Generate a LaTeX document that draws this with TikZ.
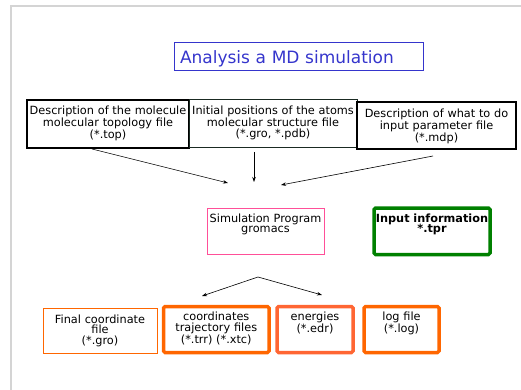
\documentclass[tikz,border=0pt]{standalone}
\usepackage{fontspec}
\setmainfont{DejaVu Sans}
\usetikzlibrary{arrows.meta}
\definecolor{titleblue}{HTML}{3535CC}
\definecolor{simpink}{HTML}{FF4F98}
\definecolor{tprgreen}{HTML}{008000}
\definecolor{outorange}{HTML}{FF6600}
\definecolor{edrorange}{HTML}{FF6633}
\definecolor{midline}{HTML}{1A2A22}

\begin{document}
\begin{tikzpicture}[x=1pt,y=-1pt,
		box/.style={draw, outer sep=0pt, inner xsep=0pt, inner ysep=0pt, align=center, anchor=north west, font=\fontsize{11.3}{10.8}\selectfont},
		thickbox/.style={box, line width=3.5pt, rounded corners=1.5pt},
		arr/.style={-{Stealth[length=5pt,width=3.5pt]}, line width=0.6pt}]
		\useasboundingbox (0,0) rectangle (521,390);
		\draw[black!17, line width=1.5pt] (11,390) -- (11,6) -- (521,6);
		% title
		\node[box, draw=titleblue, text=titleblue, line width=1pt, align=left, inner xsep=6pt, text width=237pt, text height=21pt, text depth=7pt, font=\fontsize{17}{20}\selectfont] (title) at (174,43) {Analysis a MD simulation};
		% input files
		\node[box, line width=1.6pt, text width=162pt, text height=14.5pt, text depth=33.5pt] (top) at (27,100) {Description of the molecule\\molecular topology file\\(*.top)};
		\node[box, draw=midline, line width=1pt, text width=168pt, text height=14.5pt, text depth=33.5pt] (gro) at (189,100) {Initial positions of the atoms\\molecular structure file\\(*.gro, *.pdb)};
		\node[box, line width=1.6pt, text width=159pt, text height=15.5pt, text depth=31.5pt] (mdp) at (357,102) {Description of what to do\\input parameter file\\(*.mdp)};
		% program
		\node[box, draw=simpink, line width=1pt, text width=117pt, text height=14pt, text depth=32pt] (prog) at (207,208) {Simulation Program\\gromacs};
		\node[thickbox, draw=tprgreen, text width=116pt, text height=14pt, text depth=32.5pt, font=\fontsize{11.3}{10.8}\selectfont\bfseries] (tpr) at (374,208) {Input information\\{*}.tpr};
		% output files
		\node[box, draw=outorange, line width=1pt, text width=114pt, text height=15pt, text depth=30pt] (final) at (43,308) {Final coordinate\\file\\(*.gro)};
		\node[thickbox, draw=outorange, text width=105.5pt, text height=14pt, text depth=32pt] (traj) at (163.5,306.5) {coordinates\\trajectory files\\(*.trr) (*.xtc)};
		\node[thickbox, draw=edrorange, text width=76pt, text height=14pt, text depth=32pt] (edr) at (277,306.5) {energies\\(*.edr)};
		\node[thickbox, draw=outorange, text width=75pt, text height=14pt, text depth=32pt] (log) at (364,306.5) {log file\\(*.log)};
		% arrows
		\coordinate (s1) at (92,149);
		\coordinate (s2) at (254,152);
		\coordinate (s3) at (433,156);
		\coordinate (e1) at (228,183);
		\coordinate (e2) at (254,182);
		\coordinate (e3) at (281,185);
		\draw[arr] (s1) -- (e1);
		\draw[arr] (s2) -- (e2);
		\draw[arr] (s3) -- (e3);
		\coordinate (apex) at (258,277);
		\coordinate (l1) at (202,296);
		\coordinate (l2) at (322,295);
		\draw[arr] (apex) -- (l1);
		\draw[arr] (apex) -- (l2);
\end{tikzpicture}
\end{document}
